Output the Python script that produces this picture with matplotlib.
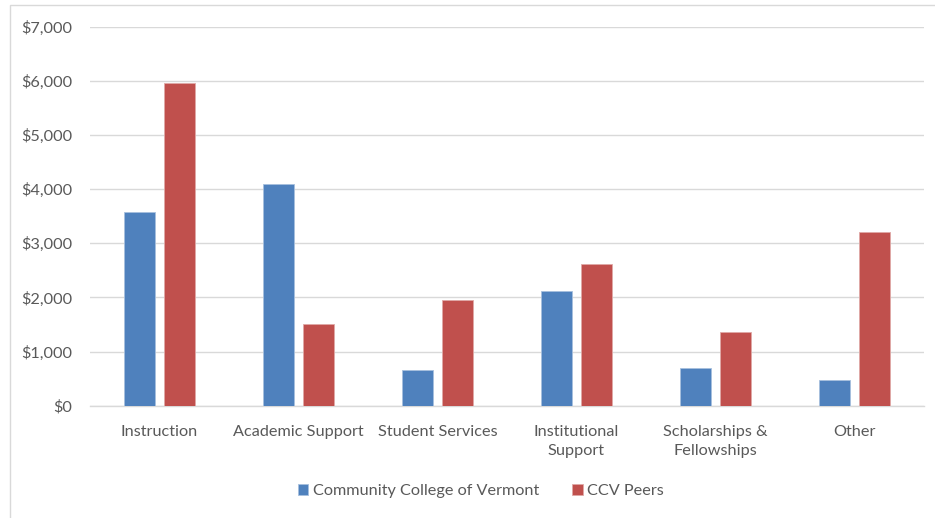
import matplotlib
matplotlib.use("Agg")
import matplotlib.pyplot as plt
from matplotlib.patches import Rectangle
from matplotlib.ticker import FuncFormatter, MultipleLocator
import numpy as np

categories = ["Instruction", "Academic Support", "Student Services",
              "Institutional\nSupport", "Scholarships &\nFellowships", "Other"]
ccv = [3580, 4100, 650, 2110, 690, 475]
peers = [5950, 1500, 1955, 2620, 1365, 3205]
series_names = ["Community College of Vermont", "CCV Peers"]

plt.rcParams['font.family'] = ['Lato', 'DejaVu Sans']
txt = '#595959'
fs = 11.7

fig = plt.figure(figsize=(9.35, 5.18), dpi=100)
fig.patches.append(Rectangle((10/935, -0.01), 1.0, (518-5)/518 + 0.01, transform=fig.transFigure,
                             fill=False, edgecolor='#D9D9D9', linewidth=1.0))
ax = fig.add_axes([90/935, 1-405.7/518, (924-90)/935, (405.7-26.5)/518])

x = np.arange(len(categories))
w = 0.223
off = 0.1435
ax.bar(x - off, ccv, w, color='#4F81BD', edgecolor='#A7C0DE', linewidth=0.6, label=series_names[0], zorder=3)
ax.bar(x + off, peers, w, color='#C0504D', edgecolor='#E0A9A7', linewidth=0.6, label=series_names[1], zorder=3)

ax.set_xlim(-0.5, len(categories) - 0.5)
ax.set_ylim(0, 7000)
ax.yaxis.set_major_locator(MultipleLocator(1000))
ax.yaxis.set_major_formatter(FuncFormatter(lambda v, p: f"${v:,.0f}"))
ax.grid(axis='y', color='#D9D9D9', linewidth=1.0, zorder=0)
ax.set_axisbelow(True)
for s in ['top', 'right', 'left']:
    ax.spines[s].set_visible(False)
ax.spines['bottom'].set_color('#D9D9D9')
ax.spines['bottom'].set_linewidth(1.0)

ax.set_xticks(x)
ax.set_xticklabels(categories, linespacing=1.45)
ax.tick_params(axis='x', length=0, pad=14, labelsize=fs, labelcolor=txt)
ax.tick_params(axis='y', length=0, pad=13, labelsize=fs, labelcolor=txt)

fig.legend(loc='center', bbox_to_anchor=(481/935, 1-491/518), ncol=2, frameon=False,
           handlelength=0.65, handleheight=0.65, handletextpad=0.3, columnspacing=2.0,
           fontsize=fs, labelcolor=txt)

fig.savefig("out.png", dpi=100)
